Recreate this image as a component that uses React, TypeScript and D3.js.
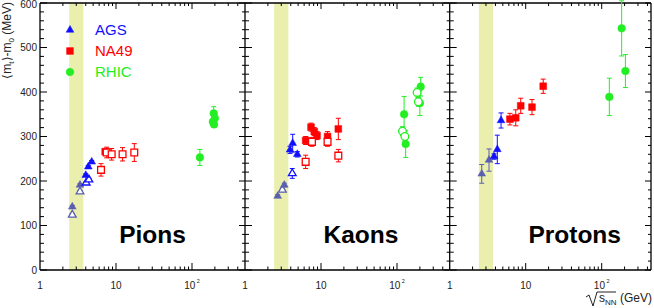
import { useEffect } from "react";
import * as d3 from "d3";

const width = 654;
const height = 308;
const yTop = 3;
const yBottom = 270;
const decadePx = 76;
const panelEdges: [number, number][] = [
  [40, 245],
  [245, 449.7],
  [449.7, 651],
];
const labelOffsets = [112.5, 116, 125];

// [sqrt(s_NN) GeV, <mt>-m0 MeV, error MeV]
type Pt = [number, number, number];

// Pions
const pionE895Filled: Pt[] = [[2.66, 142, 3], [3.36, 191, 3]];
const pionE895Open: Pt[] = [[2.66, 124, 3], [3.36, 176, 3]];
const pionE866Filled: Pt[] = [[4.0, 213, 3], [4.32, 232, 3], [4.79, 243, 3]];
const pionE866Open: Pt[] = [[4.05, 196, 3], [4.4, 203, 3]];
const pionNA49Filled: Pt[] = [[7.2, 266, 6]];
const pionNA49Open: Pt[] = [[6.35, 225, 14], [7.54, 264, 12], [8.77, 260, 13], [12.2, 260, 15], [17.4, 264, 20]];
const pionRHICFilled: Pt[] = [[127, 253, 18], [193, 352, 15], [200, 341, 8], [188, 333, 6], [195, 327, 6]];

// Kaons
const kaonE895Filled: Pt[] = [[2.69, 166, 3], [3.29, 191, 4]];
const kaonE895Open: Pt[] = [[3.1, 180, 4]];
const kaonE866Filled: Pt[] = [[3.91, 270, 8], [4.24, 285, 20], [4.88, 260, 6]];
const kaonE866Open: Pt[] = [[4.19, 217, 11]];
const kaonNA49Filled: Pt[] = [[6.28, 291, 9], [7.39, 321, 9], [8.16, 311, 9], [8.87, 302, 9], [12.2, 300, 11], [16.9, 317, 24]];
const kaonNA49Open: Pt[] = [[6.28, 243, 15], [7.6, 288, 10], [12.2, 288, 10], [16.9, 257, 14]];
const kaonRHICFilled: Pt[] = [[124, 350, 40], [130, 283, 30], [205, 412, 21], [200, 375, 28]];
const kaonRHICOpen: Pt[] = [[118, 312, 10], [127, 300, 10], [184, 399, 10], [191, 378, 10]];

// Protons
const protonE895Filled: Pt[] = [[2.64, 216, 21], [3.29, 247, 25]];
const protonE866Filled: Pt[] = [[3.83, 255, 6], [4.23, 271, 32], [4.74, 336, 17]];
const protonNA49Filled: Pt[] = [[6.2, 339, 13], [7.4, 342, 18], [8.6, 369, 17], [12.1, 366, 17], [17.0, 413, 16]];
const protonRHICFilled: Pt[] = [[126, 389, 42], [183, 543, 62], [205, 447, 37]];

const bandRange = [2.42, 3.72];
const yTickValues = d3.range(0, 601, 20);
const panelNames = ["Pions", "Kaons", "Protons"];
const legendItems = ["AGS", "NA49", "RHIC"];

const blue = "#1010ff";
const slate = "#5a5fb0";
const red = "#ff0000";
const green = "#22ee22";

type Shape = "tri" | "sq" | "circ";
type Series = { pts: Pt[]; shape: Shape; color: string; open: boolean };

const panels: Series[][] = [
  [
    { pts: pionRHICFilled, shape: "circ", color: green, open: false },
    { pts: pionNA49Filled, shape: "sq", color: red, open: false },
    { pts: pionNA49Open, shape: "sq", color: red, open: true },
    { pts: pionE895Open, shape: "tri", color: slate, open: true },
    { pts: pionE895Filled, shape: "tri", color: slate, open: false },
    { pts: pionE866Open, shape: "tri", color: blue, open: true },
    { pts: pionE866Filled, shape: "tri", color: blue, open: false },
  ],
  [
    { pts: kaonRHICFilled, shape: "circ", color: green, open: false },
    { pts: kaonRHICOpen, shape: "circ", color: green, open: true },
    { pts: kaonNA49Filled, shape: "sq", color: red, open: false },
    { pts: kaonNA49Open, shape: "sq", color: red, open: true },
    { pts: kaonE895Open, shape: "tri", color: slate, open: true },
    { pts: kaonE895Filled, shape: "tri", color: slate, open: false },
    { pts: kaonE866Open, shape: "tri", color: blue, open: true },
    { pts: kaonE866Filled, shape: "tri", color: blue, open: false },
  ],
  [
    { pts: protonRHICFilled, shape: "circ", color: green, open: false },
    { pts: protonNA49Filled, shape: "sq", color: red, open: false },
    { pts: protonE895Filled, shape: "tri", color: slate, open: false },
    { pts: protonE866Filled, shape: "tri", color: blue, open: false },
  ],
];

const symbolPath = (shape: Shape) =>
  shape === "tri"
    ? d3.symbol(d3.symbolTriangle, 26)()
    : shape === "sq"
    ? d3.symbol(d3.symbolSquare, 46)()
    : d3.symbol(d3.symbolCircle, 46)();

const font = "'Liberation Sans', Arial, Helvetica, sans-serif";

const yScale = d3.scaleLinear().domain([0, 600]).range([yBottom, yTop]);

const makeX = ([l, r]: [number, number]) =>
  d3.scaleLog().domain([1, Math.pow(10, (r - l) / decadePx)]).range([l, r]);

const Marker = ({ x, y, s }: { x: number; y: number; s: Series }) => (
  <path
    d={symbolPath(s.shape) as string}
    transform={`translate(${x},${y})`}
    fill={s.open ? "white" : s.color}
    stroke={s.color}
    strokeWidth={s.open ? 1.3 : 0.5}
  />
);

const Panel = ({ idx }: { idx: number }) => {
  const edges = panelEdges[idx];
  const x = makeX(edges);
  const maxS = x.domain()[1];
  const logTicks: { v: number; major: boolean }[] = [];
  [1, 10, 100].forEach((dec) => {
    for (let k = 1; k <= 9; k++) {
      const v = dec * k;
      if (v > 1 && v < maxS) logTicks.push({ v, major: k === 1 });
    }
  });
  const labels = [
    { v: 1, t: "1", sup: "" },
    { v: 10, t: "10", sup: "" },
    { v: 100, t: "10", sup: "2" },
  ];
  const isLast = idx === panelEdges.length - 1;
  return (
    <g>
      <rect
        x={x(bandRange[0])}
        y={yTop}
        width={x(bandRange[1]) - x(bandRange[0])}
        height={yBottom - yTop}
        fill="#eaefad"
      />
      {/* bottom and top ticks */}
      {logTicks.map((t, i) => (
        <g key={i} stroke="black" strokeWidth={1}>
          <line x1={x(t.v)} x2={x(t.v)} y1={yBottom} y2={yBottom - (t.major ? 7 : 3.5)} />
          <line x1={x(t.v)} x2={x(t.v)} y1={yTop} y2={yTop + (t.major ? 6 : 3)} />
        </g>
      ))}
      {/* left ticks */}
      {yTickValues.map((v) => (
        <line
          key={`l${v}`}
          x1={edges[0]}
          x2={edges[0] + (v % 100 === 0 ? 7 : 4)}
          y1={yScale(v)}
          y2={yScale(v)}
          stroke="black"
          strokeWidth={1}
        />
      ))}
      {/* right mirror ticks */}
      {yTickValues.map((v) => (
        <line
          key={`r${v}`}
          x1={edges[1]}
          x2={edges[1] - (v % 100 === 0 ? 6 : 3)}
          y1={yScale(v)}
          y2={yScale(v)}
          stroke="black"
          strokeWidth={1}
        />
      ))}
      <line x1={edges[0]} x2={edges[0]} y1={yTop} y2={yBottom} stroke="black" strokeWidth={1.3} />
      {isLast && <line x1={edges[1]} x2={edges[1]} y1={yTop} y2={yBottom} stroke="black" strokeWidth={1.3} />}
      <line x1={edges[0]} x2={edges[1]} y1={yBottom} y2={yBottom} stroke="black" strokeWidth={1.3} />
      <line x1={edges[0]} x2={edges[1]} y1={yTop} y2={yTop} stroke="black" strokeWidth={1.3} />
      {labels.map((l) => (
        <text key={l.v} x={x(l.v)} y={289} fontFamily={font} fontSize={10} fill="#222" textAnchor="middle">
          {l.t}
          {l.sup && (
            <tspan fontSize={5.5} dx={1.5} dy={-6}>
              {l.sup}
            </tspan>
          )}
        </text>
      ))}
      {/* data */}
      {panels[idx].map((s, si) => (
        <g key={si}>
          {s.pts.map((p, pi) => {
            const cx = x(p[0]);
            const y0 = yScale(p[1] - p[2]);
            const y1 = yScale(p[1] + p[2]);
            return (
              <g key={pi} stroke={s.color} strokeWidth={1}>
                <line x1={cx} x2={cx} y1={y0} y2={y1} />
                <line x1={cx - 2.5} x2={cx + 2.5} y1={y0} y2={y0} />
                <line x1={cx - 2.5} x2={cx + 2.5} y1={y1} y2={y1} />
              </g>
            );
          })}
          {s.pts.map((p, pi) => (
            <Marker key={`m${pi}`} x={x(p[0])} y={yScale(p[1])} s={s} />
          ))}
        </g>
      ))}
      <text
        x={edges[0] + labelOffsets[idx]}
        y={243}
        fontFamily={font}
        fontSize={24.5}
        fontWeight="bold"
        textAnchor="middle"
        fill="black"
      >
        {panelNames[idx]}
      </text>
    </g>
  );
};

const App = () => {
  useEffect(() => {
    document.body.style.margin = "0";
  }, []);

  const legendColors = [blue, red, green];
  const legendShapes: Shape[] = ["tri", "sq", "circ"];
  const legendY = [30, 51, 72];

  return (
    <svg width={width} height={height} style={{ display: "block", background: "white" }}>
      {panelEdges.map((_, i) => (
        <Panel key={i} idx={i} />
      ))}
      {/* y axis labels */}
      {yTickValues
        .filter((v) => v % 100 === 0)
        .map((v) => (
          <text
            key={v}
            x={37}
            y={Math.max(yScale(v), 4)}
            dy="0.35em"
            fontFamily={font}
            fontSize={10}
            fill="#222"
            textAnchor="end"
          >
            {v}
          </text>
        ))}
      <text transform="translate(11,2) rotate(-90)" fontFamily={font} fontSize={12} fill="#222" textAnchor="end">
        <tspan>⟨m</tspan>
        <tspan fontSize={8} dy={3}>t</tspan>
        <tspan dy={-3}>⟩-m</tspan>
        <tspan fontSize={8} dy={3}>0</tspan>
        <tspan dy={-3}> (MeV)</tspan>
      </text>
      {/* legend */}
      {legendItems.map((name, i) => (
        <g key={name}>
          <Marker x={70} y={legendY[i]} s={{ pts: [], shape: legendShapes[i], color: legendColors[i], open: false }} />
          <text x={95} y={legendY[i] + 5} fontFamily={font} fontSize={15} fill={legendColors[i]}>
            {name}
          </text>
        </g>
      ))}
      {/* x axis title */}
      <path d="M586,297 L589,295 L593,306 L597,292 L616,292" fill="none" stroke="#222" strokeWidth={1} />
      <text x={599} y={302} fontFamily={font} fontSize={12} fill="#222">
        s
        <tspan fontSize={8} dy={3}>NN</tspan>
        <tspan dy={-3}> (GeV)</tspan>
      </text>
    </svg>
  );
};

export default App;
